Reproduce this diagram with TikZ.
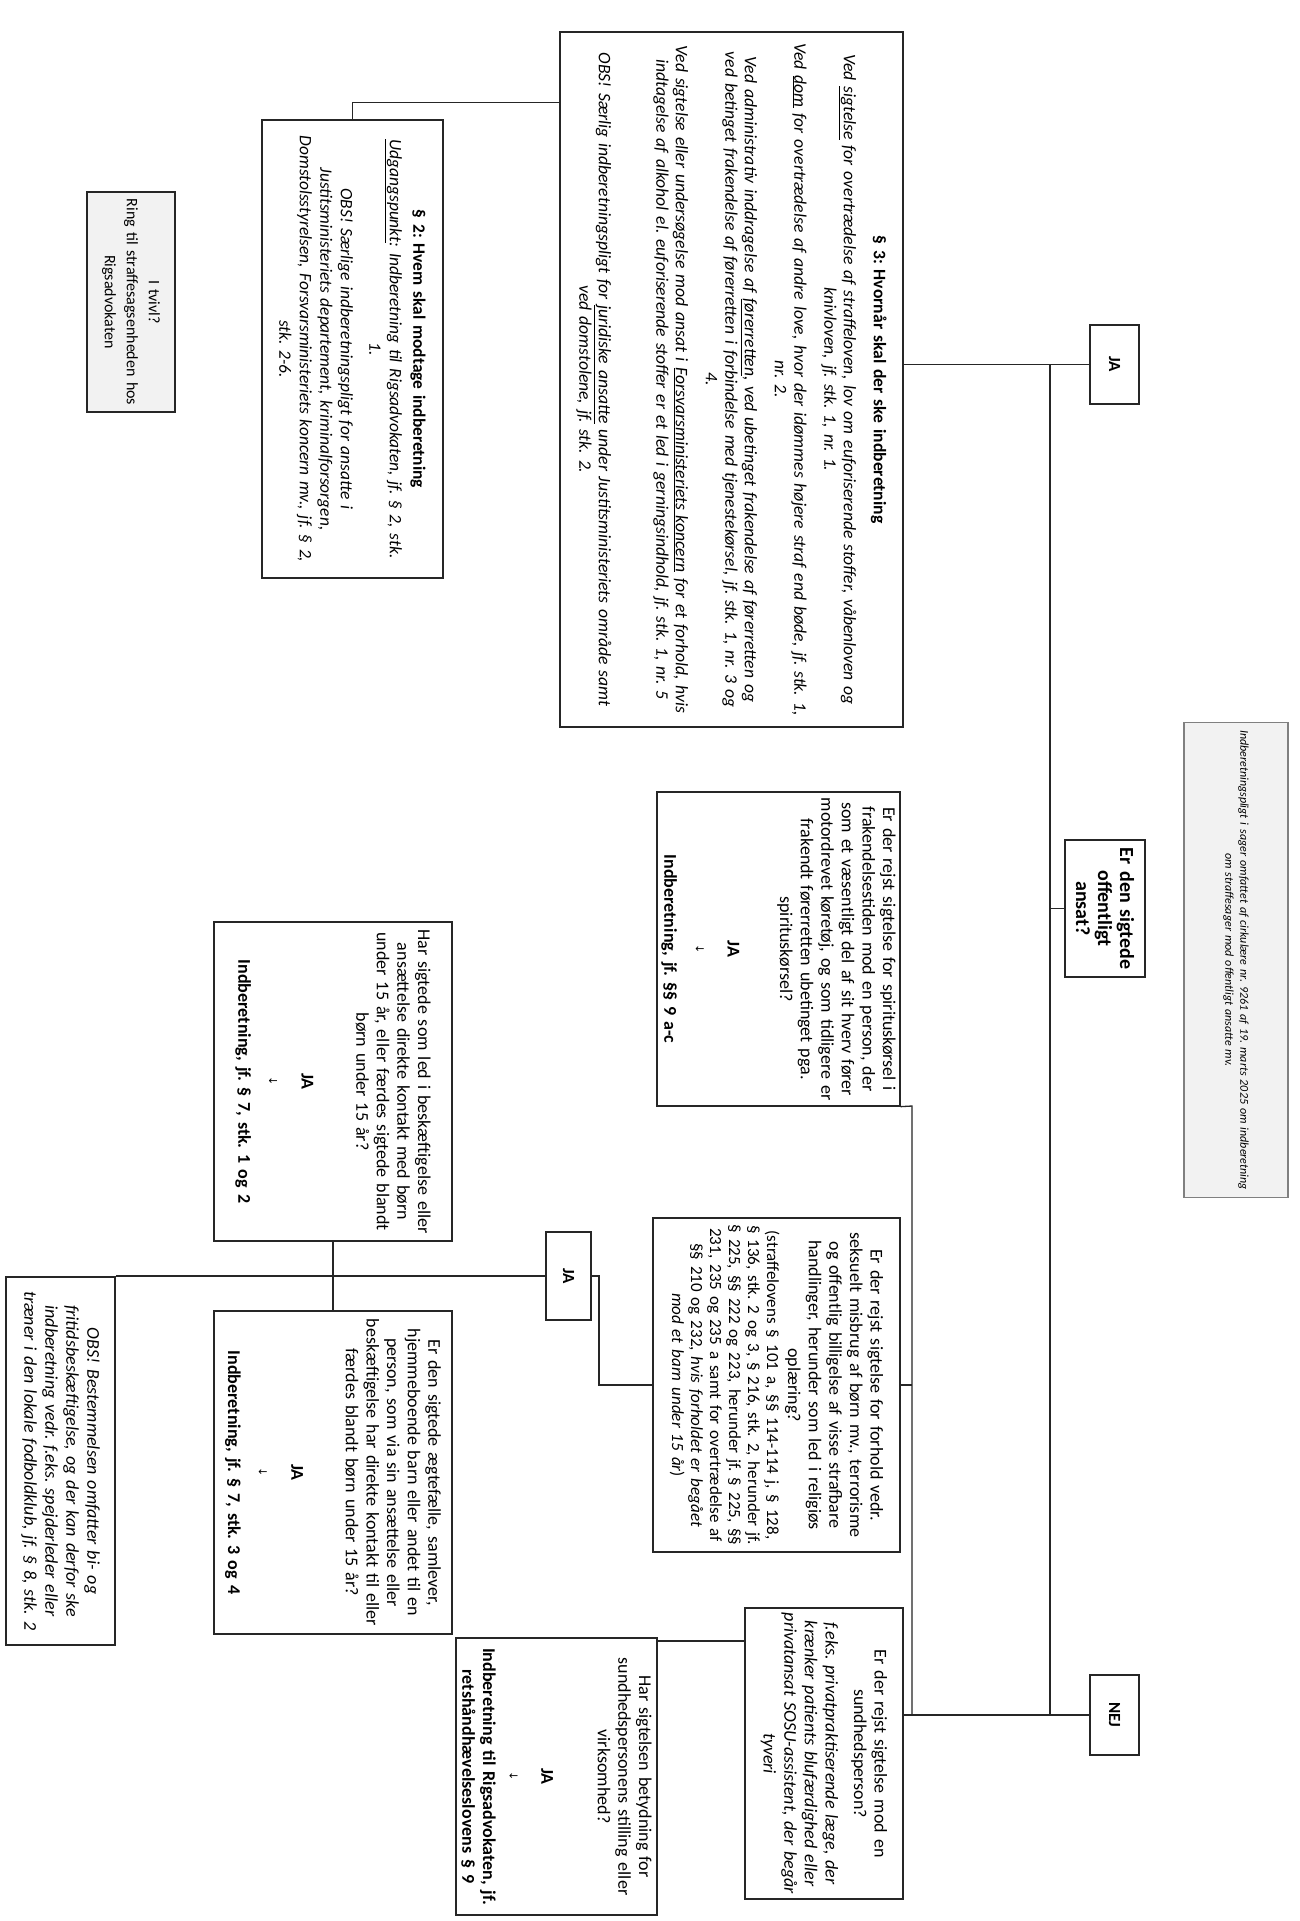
\documentclass[tikz,border=0pt]{standalone}
\usepackage{fontspec}
\setmainfont{Carlito}
\newfontfamily\dejavu{DejaVu Sans}
\newcommand{\dn}{{\dejavu\fontsize{11}{11}\selectfont ↓}}
\frenchspacing
\begin{document}
\begin{tikzpicture}[x=1pt,y=-1pt,
  bx/.style={draw=black!85, line width=1.3pt, rotate=-90, align=center, inner sep=0pt, fill=white,
    font=\fontsize{18}{20.6}\selectfont},
  graybx/.style={bx, draw=black!50, fill=black!5},
  lbl/.style={bx, font=\bfseries\fontsize{17}{20}\selectfont},
  ln/.style={draw=black!85, line width=1.3pt}]
\useasboundingbox[fill=white] (0,0) rectangle (1300,1921);

% title
\node[graybx, minimum width=475pt, minimum height=104pt, text width=470pt,
  font=\itshape\fontsize{12}{15}\selectfont] (title) at (1236,960)
  {Indberetningspligt i sager omfattet af cirkulære nr. 9261 af 19. marts 2025 om indberetning\\
   om straffesager mod offentligt ansatte mv.};

% question
\node[bx, minimum width=137pt, minimum height=80pt, text width=130pt,
  font=\bfseries\fontsize{20}{22}\selectfont] (q) at (1105,908.5)
  {Er den sigtede\\offentligt\\ansat?};

\node[lbl, minimum width=79pt, minimum height=49pt] (ja1) at (1114.5,364.5) {JA};
\node[lbl, minimum width=80pt, minimum height=49pt] (nej) at (1114.5,1715) {NEJ};

% section 3
\node[bx, minimum width=695pt, minimum height=343pt, text width=688pt,
  font=\fontsize{17.6}{19.5}\selectfont] (s3) at (731.5,379.5)
  {\textbf{§ 3: Hvornår skal der ske indberetning}\\[10.5pt]
   \itshape Ved \underline{sigtelse} for overtrædelse af straffeloven, lov om euforiserende stoffer, våbenloven og\\
   knivloven, jf. stk. 1, nr. 1.\\[10.5pt]
   Ved \underline{dom} for overtrædelse af andre love, hvor der idømmes højere straf end bøde, jf. stk. 1,\\
   nr. 2.\\[10.5pt]
   Ved administrativ inddragelse af \underline{førerretten}, ved ubetinget frakendelse af førerretten og\\
   ved betinget frakendelse af førerretten i forbindelse med tjenestekørsel, jf. stk. 1, nr. 3 og\\
   4.\\[10.5pt]
   Ved sigtelse eller undersøgelse mod ansat i \underline{Forsvarsministeriets koncern} for et forhold, hvis\\
   indtagelse af alkohol el. euforiserende stoffer er et led i gerningsindhold, jf. stk. 1, nr. 5\\[38pt]
   OBS! Særlig indberetningspligt for \underline{juridiske ansatte} under Justitsministeriets område samt\\
   ved domstolene, jf. stk. 2.};

% section 2
\node[bx, minimum width=458pt, minimum height=181pt, text width=450pt,
  font=\fontsize{17.4}{20.5}\selectfont] (s2) at (352.5,349)
  {\textbf{§ 2: Hvem skal modtage indberetning}\\[3pt]
   \itshape\underline{Udgangspunkt}: Indberetning til Rigsadvokaten, jf. § 2, stk.\\
   1.\\[8pt]
   OBS! Særlige indberetningspligt for ansatte i\\
   Justitsministeriets departement, kriminalforsorgen,\\
   Domstolsstyrelsen, Forsvarsministeriets koncern mv., jf. § 2,\\
   stk. 2-6.};

% i tvivl
\node[graybx, draw=black!85, minimum width=220pt, minimum height=88pt, text width=212pt,
  font=\fontsize{16}{22}\selectfont] (tv) at (131,302)
  {I tvivl?\\Ring til straffesagsenheden hos\\Rigsadvokaten};

% spirituskoersel
\node[bx, minimum width=314pt, minimum height=243pt, text width=308pt] (sp) at (778.5,949)
  {Er der rejst sigtelse for spirituskørsel i\\
   frakendelsestiden mod en person, der\\
   som et væsentligt del af sit hverv fører\\
   motordrevet køretøj, og som tidligere er\\
   frakendt førerretten ubetinget pga.\\
   spirituskørsel?\\[32pt]
   \textbf{JA}\\[11pt] \dn\\[11pt]
   \textbf{Indberetning, jf. §§ 9 a-c}};

% seksuelt misbrug
\node[bx, minimum width=334pt, minimum height=247pt, text width=328pt] (sk) at (776.5,1385)
  {Er der rejst sigtelse for forhold vedr.\\
   seksuelt misbrug af børn mv., terrorisme\\
   og offentlig billigelse af visse strafbare\\
   handlinger, herunder som led i religiøs\\
   oplæring?\\[2pt]
   {\fontsize{17}{19}\selectfont
   (straffelovens § 101 a, §§ 114-114 j, § 128,\\
   § 136, stk. 2 og 3, § 216, stk. 2, herunder jf.\\
   § 225, §§ 222 og 223, herunder jf. § 225, §§\\
   231, 235 og 235 a samt for overtrædelse af\\
   §§ 210 og 232, \textit{hvis forholdet er begået}\\
   \textit{mod et barn under 15 år})\par}};

% har sigtede som led
\node[bx, minimum width=319pt, minimum height=238pt, text width=312pt] (hs) at (333,1081.5)
  {Har sigtede som led i beskæftigelse eller\\
   ansættelse direkte kontakt med børn\\
   under 15 år, eller færdes sigtede blandt\\
   børn under 15 år?\\[34pt]
   \textbf{JA}\\[12pt] \dn\\[10pt]
   \textbf{Indberetning, jf. § 7, stk. 1 og 2}};

% aegtefaelle
\node[bx, minimum width=323pt, minimum height=238pt, text width=316pt] (ae) at (333,1472.5)
  {Er den sigtede ægtefælle, samlever,\\
   hjemmeboende barn eller andet til en\\
   person, som via sin ansættelse eller\\
   beskæftigelse har direkte kontakt til eller\\
   færdes blandt børn under 15 år?\\[34pt]
   \textbf{JA}\\[12pt] \dn\\[10pt]
   \textbf{Indberetning, jf. § 7, stk. 3 og 4}};

\node[lbl, minimum width=88pt, minimum height=45pt] (ja2) at (568.5,1276) {JA};

% OBS
\node[bx, minimum width=368pt, minimum height=109pt, text width=360pt,
  font=\itshape\fontsize{18}{21}\selectfont] (obs) at (60.5,1461)
  {OBS! Bestemmelsen omfatter bi- og\\
   fritidsbeskæftigelse, og der kan derfor ske\\
   indberetning vedr. f.eks. spejderleder eller\\
   træner i den lokale fodboldklub, jf. § 8, stk. 2};

% sundhedsperson
\node[bx, minimum width=291pt, minimum height=158pt, text width=285pt] (sd) at (824,1753.5)
  {Er der rejst sigtelse mod en\\
   sundhedsperson?\\[8pt]
   \itshape f.eks. privatpraktiserende læge, der\\
   krænker patients blufærdighed eller\\
   privatansat SOSU-assistent, der begår\\
   tyveri};

% betydning
\node[bx, minimum width=277pt, minimum height=201pt, text width=272pt] (hb) at (556.5,1776.5)
  {Har sigtelsen betydning for\\
   sundhedspersonens stilling eller\\
   virksomhed?\\[36pt]
   \textbf{JA}\\[11pt] \dn\\[6pt]
   \textbf{Indberetning til Rigsadvokaten, jf.}\\
   \textbf{retshåndhævelseslovens § 9}};

% connectors
\coordinate (c1) at (352.5,102.8);
\draw[ln] (s2.west) -- (s2.west |- c1) -- (c1 -| s3.south);
\coordinate (tr) at (1050,0);
\draw[ln] (s3.north |- ja1) -- (ja1.south);
\draw[ln] (tr |- ja1) -- (tr |- nej);
\draw[ln] (tr |- q.south) -- (q.south);
\draw[ln] (nej.south) -- (sd.north |- nej);
\coordinate (v1) at (912,1106);
\draw[ln] (sp.north east) -- (v1) -- (v1 |- nej);
\draw[ln] (sk.north) -- (sk.north -| v1);
\draw[ln] (hs.east) -- (ae.west);
\draw[ln] (ja2.south) -- (ja2.south -| obs.north);
\coordinate (c2) at (599,1276);
\draw[ln] (ja2.north) -- (c2) -- (c2 |- sk.south) -- (sk.south);
\coordinate (c3) at (700,1641);
\draw[ln] (sd.south |- c3) -- (hb.north |- c3);
\end{tikzpicture}
\end{document}
